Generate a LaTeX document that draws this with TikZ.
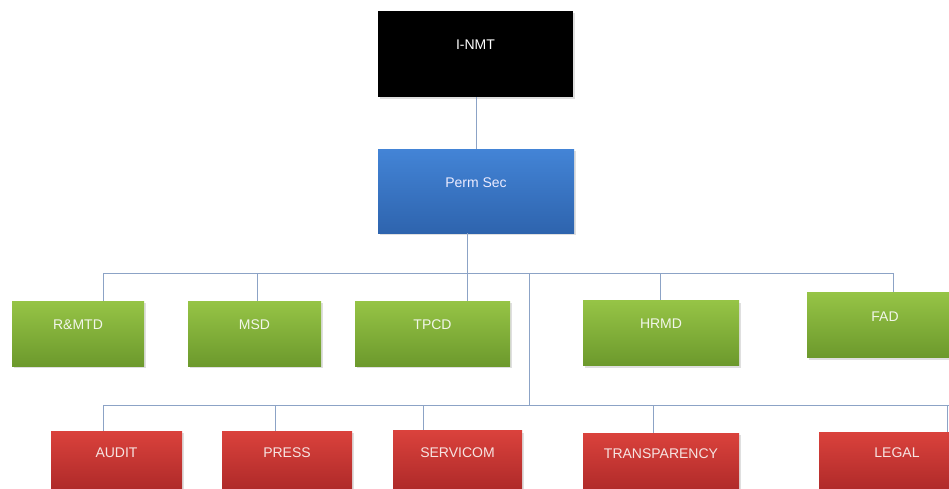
\documentclass[tikz,border=0pt]{standalone}
\usepackage{fontspec}
\setmainfont{Liberation Sans}
\usetikzlibrary{shadows}
\definecolor{linkc}{HTML}{8CA3C6}
\definecolor{blueT}{HTML}{4384D6}
\definecolor{blueB}{HTML}{2E64AE}
\definecolor{greenT}{HTML}{96C446}
\definecolor{greenB}{HTML}{6C992C}
\definecolor{redT}{HTML}{DA423C}
\definecolor{redB}{HTML}{AA2727}
\definecolor{lightred}{HTML}{F6E4E2}
\definecolor{lightgreen}{HTML}{F2F6EA}
\tikzset{
  box/.style={draw=none, minimum width=#1, inner sep=0pt,
    drop shadow={shadow xshift=1.5pt, shadow yshift=-2pt, opacity=0.25, fill=gray}},
  topbox/.style={box=195pt, minimum height=86pt, fill=black},
  bluebox/.style={box=196pt, minimum height=84pt, top color=blueT, bottom color=blueB},
  greenbox/.style={box=#1, minimum height=65pt, top color=greenT, bottom color=greenB},
  redbox/.style={box=#1, minimum height=65pt, top color=redT, bottom color=redB},
  txt/.style={font=\fontsize{14}{16}\selectfont, inner sep=0pt},
  link/.style={draw=linkc, line width=1pt},
}
\begin{document}
\begin{tikzpicture}[x=1pt, y=-1pt]
\useasboundingbox (0,0) rectangle (949,488);
\clip (0,0) rectangle (949,488);

% top levels
\node[topbox] (inmt) at (475.5,54) {};
\node[txt, text=white] (inmtT) at (475.5,45) {I-NMT};
\node[bluebox] (perm) at (476,191) {};
\node[txt, text=white!92!blue] (permT) at (476,183) {Perm Sec};

% departments
\node[greenbox=132pt] (rmtd) at (78,333.5) {};
\node[greenbox=133pt] (msd)  at (254.5,333.5) {};
\node[greenbox=155pt] (tpcd) at (432.5,333.5) {};
\node[greenbox=156pt] (hrmd) at (661,333) {};
\node[greenbox=156pt] (fad)  at (885,325) {};
\node[txt, text=lightgreen] (rmtdT) at (78,325) {R\&MTD};
\node[txt, text=lightgreen] (msdT)  at (254.5,325) {MSD};
\node[txt, text=lightgreen] (tpcdT) at (432.5,325) {TPCD};
\node[txt, text=lightgreen] (hrmdT) at (661,324) {HRMD};
\node[txt, text=lightgreen] (fadT)  at (885,317) {FAD};

% units
\node[redbox=131pt] (audit) at (116.5,463.5) {};
\node[redbox=130pt] (press) at (287,463.5) {};
\node[redbox=129pt] (servi) at (457.5,463) {};
\node[redbox=156pt] (trans) at (661,465.5) {};
\node[redbox=156pt] (legal) at (897,464.5) {};
\node[txt, text=lightred] (auditT) at (116.5,453) {AUDIT};
\node[txt, text=lightred] (pressT) at (287,453) {PRESS};
\node[txt, text=lightred] (serviT) at (457.5,453) {SERVICOM};
\node[txt, text=lightred] (transT) at (661,454) {TRANSPARENCY};
\node[txt, text=lightred] (legalT) at (897,453) {LEGAL};

% bus points: department bus
\coordinate (g1) at (103,273);
\coordinate (g2) at (257,273);
\coordinate (g3) at (467,273);
\coordinate (gM) at (529,273);
\coordinate (g4) at (660,273);
\coordinate (g5) at (893,273);
% bus points: unit bus
\coordinate (r1) at (103,405);
\coordinate (r2) at (275,405);
\coordinate (r3) at (423,405);
\coordinate (rM) at (529,405);
\coordinate (r4) at (653,405);
\coordinate (r5) at (947,405);
\coordinate (rR) at (960,405);

% connectors
\draw[link] (inmt.south -| 476,0) -- (perm.north -| 476,0);
\draw[link] (perm.south -| g3) -- (tpcd.north -| g3);
\draw[link] (g1) -- (g5);
\draw[link] (g1) -- (rmtd.north -| g1);
\draw[link] (g2) -- (msd.north -| g2);
\draw[link] (g4) -- (hrmd.north -| g4);
\draw[link] (g5) -- (fad.north -| g5);
\draw[link] (gM) -- (rM);
\draw[link] (r1) -- (rR);
\draw[link] (r1) -- (audit.north -| r1);
\draw[link] (r2) -- (press.north -| r2);
\draw[link] (r3) -- (servi.north -| r3);
\draw[link] (r4) -- (trans.north -| r4);
\draw[link] (r5) -- (legal.north -| r5);
\end{tikzpicture}
\end{document}
